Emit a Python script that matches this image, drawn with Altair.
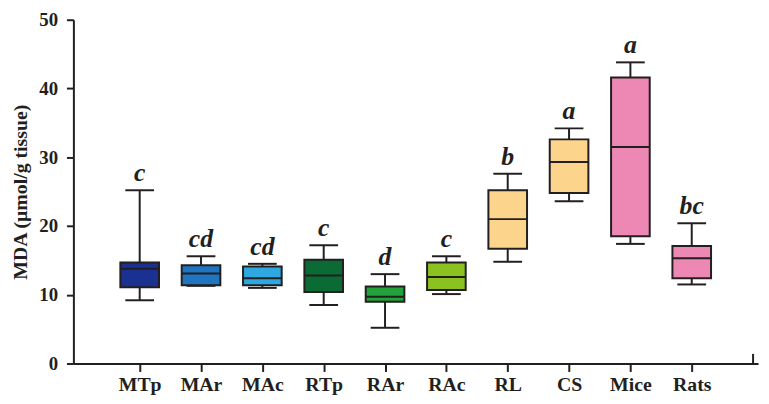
import altair as alt
import pandas as pd

groups = ["MTp", "MAr", "MAc", "RTp", "RAr", "RAc", "RL", "CS", "Mice", "Rats"]
lower = [9.2, 11.3, 11.0, 8.5, 5.2, 10.1, 14.8, 23.6, 17.4, 11.5]
q1 = [11.1, 11.4, 11.4, 10.4, 9.0, 10.7, 16.7, 24.8, 18.5, 12.4]
median = [13.8, 13.1, 12.4, 12.8, 9.7, 12.6, 21.0, 29.3, 31.5, 15.3]
q3 = [14.7, 14.3, 14.1, 15.1, 11.2, 14.7, 25.2, 32.6, 41.6, 17.1]
upper = [25.2, 15.6, 14.5, 17.2, 13.0, 15.6, 27.6, 34.2, 43.8, 20.4]
letters = ["c", "cd", "cd", "c", "d", "c", "b", "a", "a", "bc"]
colors = ["#1b3192", "#1f75c0", "#2ea8e0", "#0b6b34", "#22a23a",
          "#8cc220", "#fcd48c", "#fcd48c", "#ec88b3", "#ec88b3"]

df = pd.DataFrame({
    "group": groups,
    "pos": list(range(1, len(groups) + 1)),
    "lower": lower, "q1": q1, "median": median, "q3": q3, "upper": upper,
    "letter": letters,
})

INK = "#231f20"
FONT = "Liberation Serif"

label_expr = "[" + ",".join("'" + g + "'" for g in groups) + "][datum.value - 1]"

x = alt.X("pos:Q",
          scale=alt.Scale(domain=[0, 11], nice=False, zero=False),
          axis=alt.Axis(values=list(range(1, 11)), labelExpr=label_expr, title=None,
                        grid=False, tickSize=8, tickWidth=2, tickColor=INK,
                        domainColor=INK, domainWidth=2, labelFont=FONT,
                        labelFontSize=20, labelFontWeight="bold", labelColor=INK,
                        labelPadding=3))
y_scale = alt.Scale(domain=[0, 50], nice=False)
y_axis = alt.Axis(values=[0, 10, 20, 30, 40, 50], title="MDA (μmol/g tissue)",
                  grid=False, tickSize=7, tickWidth=2, tickColor=INK,
                  domainColor=INK, domainWidth=2, labelFont=FONT,
                  labelFontSize=19, labelFontWeight="bold", labelColor=INK,
                  labelPadding=9, titleFont=FONT, titleFontSize=20,
                  titleFontWeight="bold", titleColor=INK, titlePadding=8)

base = alt.Chart(df)

whisker = base.mark_rule(color=INK, strokeWidth=2).encode(
    x=x, y=alt.Y("lower:Q", scale=y_scale, axis=y_axis), y2="upper:Q")

caps_lo = base.mark_tick(color=INK, size=29, thickness=2, orient="horizontal", opacity=1).encode(
    x="pos:Q", y="lower:Q")
caps_hi = base.mark_tick(color=INK, size=29, thickness=2, orient="horizontal", opacity=1).encode(
    x="pos:Q", y="upper:Q")

box = base.mark_bar(size=39, stroke=INK, strokeWidth=2, opacity=1).encode(
    x="pos:Q", y="q1:Q", y2="q3:Q",
    color=alt.Color("group:N", scale=alt.Scale(domain=groups, range=colors), legend=None))

med = base.mark_tick(color=INK, size=39, thickness=2, orient="horizontal", opacity=1).encode(
    x="pos:Q", y="median:Q")

text = base.mark_text(font=FONT, fontSize=26, fontWeight="bold", fontStyle="italic",
                      color=INK, baseline="alphabetic", dy=-9).encode(
    x="pos:Q", y="upper:Q", text="letter:N")

end_tick = alt.Chart(pd.DataFrame({"e": [11]})).mark_rule(color=INK, strokeWidth=2).encode(
    x="e:Q", y=alt.datum(0), y2=alt.datum(1.4))

chart = alt.layer(whisker, box, med, caps_lo, caps_hi, text, end_tick).properties(
    width=691, height=347,
    autosize=alt.AutoSizeParams(type="none"),
    padding={"left": 66, "top": 10, "right": 3, "bottom": 38},
).configure_view(stroke=None)

chart.save("out.html", embed_options={"renderer": "svg", "actions": False})
